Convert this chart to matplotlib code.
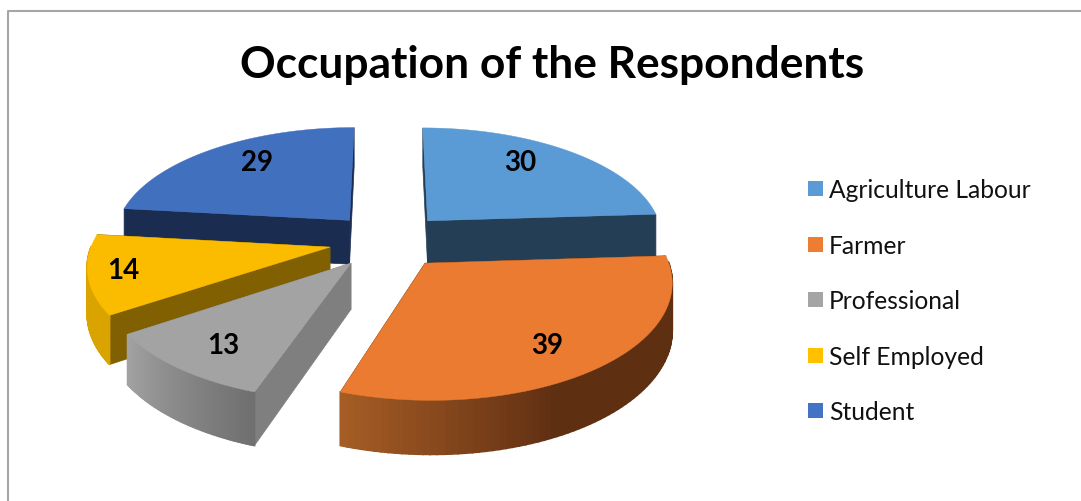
import numpy as np
import matplotlib
matplotlib.use("Agg")
import matplotlib.pyplot as plt
from matplotlib.colors import to_rgb

TITLE = "Occupation of the Respondents"
CATEGORIES = ["Agriculture Labour", "Farmer", "Professional", "Self Employed", "Student"]
VALUES = [30, 39, 13, 14, 29]

TOP_COLORS = ["#5b9bd5", "#ea7b31", "#a3a3a3", "#fbbc00", "#4170bf"]
LEGEND_COLORS = ["#5b9bd5", "#ed7d31", "#a5a5a5", "#ffc000", "#4472c4"]
WALL_COLORS = ["#243f55", "#5f2f12", "#7f7f7f", "#806000", "#1a2d50"]
RIM_LIGHT = ["#3a6590", "#a55c25", "#a2a2a2", "#dca500", "#2c4a80"]
RIM_DARK = ["#3a6590", "#5f2f12", "#6f6f6f", "#d9a300", "#2c4a80"]
RIM_SPAN = [1.0, 0.4, 1.0, 1.0, 1.0]

# where the value labels sit, in pixels
LABEL_POS = [(520, 163), (547, 346), (223, 346), (123, 271), (257, 163)]
LEGEND_Y = [189, 245, 300, 356, 411]
DRAW_ORDER = [4, 0, 3, 2, 1]

W, H = 1081, 502
CX, CY = 388, 241.5
RX, RY = 237, 111
PERSP = 0.14
EXPLODE = 0.25
DEPTH = 45


def project(u, v, z=0.0):
    """Pie plane (u right, v away from viewer) to pixel position."""
    s = 1 / (1 + PERSP * v)
    return CX + RX * u * s, CY - RY * v * s + DEPTH * z * s


def draw_slice(ax, start, end, i):
    mid = (start + end) / 2
    u0, v0 = EXPLODE * np.sin(mid), EXPLODE * np.cos(mid)
    a = np.linspace(start, end, 80)
    u = u0 + np.sin(a)
    v = v0 + np.cos(a)

    # side walls first, the top face covers whatever faces away
    for ue, ve in [(u[0], v[0]), (u[-1], v[-1])]:
        p1, p2 = project(u0, v0), project(ue, ve)
        p3, p4 = project(ue, ve, 1), project(u0, v0, 1)
        ax.fill(*zip(p1, p2, p3, p4), color=WALL_COLORS[i], lw=0.5, zorder=1)

    # outer rim, only the part facing the viewer, shaded from the far end of the arc
    light, dark = np.array(to_rgb(RIM_LIGHT[i])), np.array(to_rgb(RIM_DARK[i]))
    for k in range(len(a) - 1):
        if np.cos(a[k]) > 0 and np.cos(a[k + 1]) > 0:
            continue
        t = min(1.0, (len(a) - 2 - k) / (len(a) - 2) / RIM_SPAN[i])
        col = light + (dark - light) * t
        p1, p2 = project(u[k], v[k]), project(u[k + 1], v[k + 1])
        p3, p4 = project(u[k + 1], v[k + 1], 1), project(u[k], v[k], 1)
        ax.fill(*zip(p1, p2, p3, p4), color=col, lw=1.2, zorder=1)

    xs, ys = project(np.r_[u0, u], np.r_[v0, v])
    ax.fill(xs, ys, color=TOP_COLORS[i], lw=0.3, zorder=1)


def main():
    plt.rcParams["font.family"] = ["Lato", "DejaVu Sans"]
    fig = plt.figure(figsize=(W / 100, H / 100), dpi=100)
    ax = fig.add_axes([0, 0, 1, 1])
    ax.set_xlim(0, W)
    ax.set_ylim(H, 0)
    ax.axis("off")

    # chart frame, only left and top edges are inside the crop
    ax.plot([7.5, 7.5, W], [H, 12, 12], color="#a6a6a6", lw=1.5)

    ax.text(552, 65, TITLE, ha="center", va="center", fontsize=31.9, fontweight="bold", color="black")

    angles = np.cumsum([0] + VALUES) / sum(VALUES) * 2 * np.pi
    for i in DRAW_ORDER:
        draw_slice(ax, angles[i], angles[i + 1], i)

    for (x, y), val in zip(LABEL_POS, VALUES):
        ax.text(x, y, str(val), ha="center", va="center", fontsize=20, fontweight="bold", color="black", zorder=3)

    for y, name, col in zip(LEGEND_Y, CATEGORIES, LEGEND_COLORS):
        ax.fill([808, 823, 823, 808], [y - 7.5, y - 7.5, y + 7.5, y + 7.5], color=col, lw=0)
        ax.text(829, y + 1.5, name, ha="left", va="center", fontsize=17.7, color="#111111")

    fig.savefig("out.png", dpi=100)


if __name__ == "__main__":
    main()
